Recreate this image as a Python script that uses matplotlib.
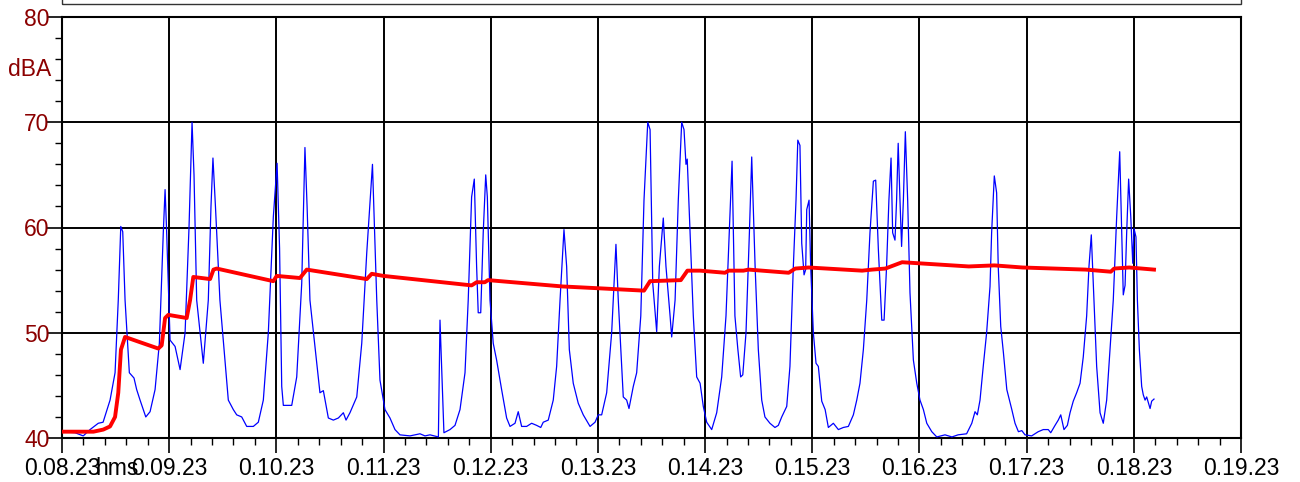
import matplotlib
matplotlib.use("Agg")
import matplotlib.pyplot as plt
from matplotlib.ticker import MultipleLocator
from matplotlib.patches import Rectangle

# ---- data (time in seconds after 0.08.23, level in dBA) ----
blue_t = [0, 7.3, 11.9, 15.7, 20.3, 23.0, 26.9, 29.7, 31.5, 32.9, 34.0, 35.3, 37.7, 40.3, 41.8, 43.7,
          46.9, 49.3, 52.1, 54.5, 56.7, 57.7, 58.5, 60.5, 63.3, 66.1, 68.9, 71.1, 72.8, 73.9, 75.4,
          79.1, 81.9, 83.4, 84.5, 85.9, 88.4, 93.1, 95.9, 97.8, 100.6, 103.4, 107.1, 109.9, 112.7,
          115.5, 118.3, 120.4, 121.8, 123.0, 123.9, 128.6, 131.4, 134.2, 136.0, 137.2, 138.8, 144.4,
          146.3, 149.1, 151.9, 154.7, 157.5, 159.0, 161.2, 165.0, 167.8, 170.6, 173.8, 176.2, 178.0,
          180.8, 183.6, 186.4, 189.2, 194.8, 200.4, 203.2, 206.0, 210.7, 211.6, 213.8, 217.2, 220.0,
          222.8, 225.6, 227.4, 229.3, 230.8, 232.1, 233.0, 234.4, 235.8, 237.2, 238.1, 239.6, 241.4,
          243.3, 246.1, 248.9, 250.8, 253.6, 255.4, 257.3, 260.1, 262.9, 265.7, 268.0, 269.4, 272.2,
          275.0, 276.9, 278.8, 281.0, 282.5, 284.0, 286.2, 289.0, 291.8, 295.6, 298.4, 300.2, 302.1,
          304.9, 307.7, 310.1, 311.4, 314.2, 316.1, 317.4, 319.8, 321.7, 324.0, 325.8, 327.9, 329.2,
          330.7, 332.9, 334.4, 336.6, 338.1, 340.4, 341.3, 343.2, 345.0, 346.9, 348.2, 349.3, 350.0,
          351.6, 353.4, 355.3, 357.2, 359.0, 360.9, 363.7, 366.5, 369.3, 371.7, 373.5, 375.1, 376.7,
          378.3, 379.9, 381.1, 382.9, 384.8, 386.1, 388.0, 389.8, 391.7, 393.5, 396.3, 399.1, 401.0,
          402.9, 405.7, 407.5, 409.4, 410.9, 411.9, 413.1, 414.1, 415.4, 416.3, 416.9, 418.2, 419.1,
          420.6, 422.1, 423.4, 425.3, 427.2, 429.0, 431.8, 434.6, 437.4, 440.2, 443.0, 444.9, 446.7,
          448.6, 450.5, 452.3, 454.2, 455.5, 457.0, 458.9, 460.2, 461.6, 462.9, 464.1, 465.0, 466.3,
          467.2, 468.1, 469.1, 470.0, 471.0, 472.1, 473.4, 474.7, 476.6, 478.5, 480.3, 482.2, 484.1,
          486.9, 489.7, 494.3, 498.2, 501.6, 506.4, 509.3, 511.1, 512.4, 513.9, 515.7, 517.6, 519.5,
          520.4, 521.9, 523.2, 524.1, 525.5, 527.0, 528.9, 531.7, 533.5, 535.4, 537.3, 539.1, 542.8,
          546.5, 549.3, 552.1, 553.5, 555.9, 557.7, 559.1, 560.9, 562.8, 564.3, 566.1, 568.0, 569.9,
          571.7, 573.6, 574.9, 576.2, 577.7, 579.2, 581.1, 582.9, 584.8, 586.7, 588.5, 590.4, 592.1,
          593.2, 594.1, 595.1, 596.0, 597.1, 598.3, 599.4, 600.1, 601.2, 602.0, 603.1, 604.4, 605.3,
          606.3, 607.2, 609.1, 610.0, 611.3]
blue_db = [40.6, 40.5, 40.2, 40.8, 41.4, 41.5, 43.6, 46.2, 53.1, 60.1, 59.6, 53.1, 46.2, 45.7, 44.6, 43.6,
           42.0, 42.5, 44.6, 49.0, 59.5, 63.6, 60.0, 49.3, 48.7, 46.5, 50.0, 60.0, 70.0, 65.0, 53.1,
           47.1, 53.1, 62.0, 66.6, 62.0, 53.1, 43.6, 42.7, 42.2, 42.0, 41.1, 41.1, 41.5, 43.6,
           50.0, 61.0, 66.1, 58.0, 44.9, 43.1, 43.1, 45.8, 54.7, 67.6, 62.0, 53.1, 44.3,
           44.5, 41.9, 41.7, 41.9, 42.4, 41.7, 42.4, 43.9, 49.0, 57.6, 66.0, 53.1, 45.5,
           42.7, 41.9, 40.8, 40.3, 40.2, 40.4, 40.2, 40.3, 40.1, 51.2, 40.5, 40.8, 41.2,
           42.7, 46.2, 53.1, 62.9, 64.6, 56.3, 51.9, 51.9, 59.5, 65.0, 62.9, 53.1, 49.0,
           47.4, 44.6, 41.9, 41.1, 41.4, 42.5, 41.1, 41.1, 41.4, 41.2, 41.0, 41.5, 41.7,
           43.6, 46.8, 53.1, 59.8, 56.3, 48.4, 45.2, 43.3, 42.2, 41.1, 41.5, 42.2, 42.2,
           44.3, 50.0, 58.4, 53.1, 43.9, 43.6, 42.8, 44.9, 46.2, 51.6, 62.6, 70.0, 69.3,
           54.7, 50.1, 56.3, 60.9, 56.3, 51.6, 49.6, 53.1, 62.6, 70.0, 69.3, 66.0, 66.5,
           59.5, 51.6, 45.8, 45.2, 43.0, 41.5, 40.8, 42.4, 45.8, 51.6, 59.5, 66.3, 51.6,
           48.5, 45.8, 46.0, 50.0, 59.5, 66.7, 56.3, 48.4, 43.6, 42.0, 41.4, 41.0, 41.2,
           42.0, 43.0, 46.8, 56.3, 62.6, 68.3, 67.8, 58.5, 55.5, 56.0, 61.7, 62.6, 56.3,
           50.0, 47.1, 46.8, 43.5, 42.7, 41.0, 41.4, 40.8, 41.0, 41.1, 42.2, 43.6, 45.2,
           48.4, 53.1, 59.5, 64.4, 64.5, 57.9, 51.2, 51.2, 56.3, 62.6, 66.6, 59.5, 58.8,
           62.6, 68.0, 62.6, 58.2, 62.6, 69.1, 62.6, 53.8, 47.4, 45.2, 43.6, 42.7, 41.4,
           40.6, 40.1, 40.3, 40.1, 40.3, 40.4, 41.4, 42.5, 42.2, 43.6, 46.8, 50.0, 54.4,
           59.5, 64.9, 63.3, 56.3, 50.6, 48.1, 44.6, 42.7, 41.4, 40.6, 40.7, 40.3, 40.2,
           40.6, 40.8, 40.8, 40.5, 41.2, 41.7, 42.2, 40.8, 41.2, 42.4, 43.5, 44.3, 45.2,
           47.7, 51.6, 56.3, 59.3, 53.1, 46.8, 42.4, 41.4, 43.6, 48.4, 53.1, 61.0, 67.2,
           59.5, 53.6, 54.5, 59.5, 64.6, 61.0, 56.6, 59.9, 59.1, 53.1, 48.4, 44.9, 44.1,
           43.6, 43.9, 42.8, 43.5, 43.7]

red_t = [0, 10.1, 17.6, 23.1, 26.9, 29.7, 31.5, 33.0, 35.3, 43.7, 53.9, 55.8, 57.7, 59.5, 69.8, 71.7,
         73.5, 82.9, 84.8, 86.6, 118.3, 120.2, 133.2, 137.0, 170.6, 173.4, 179.9, 229.3, 232.1,
         236.7, 238.5, 280.1, 303.4, 325.8, 329.2, 346.4, 350.1, 357.2, 371.2, 373.1, 381.5, 384.3,
         406.8, 410.5, 418.0, 447.9, 453.5, 460.9, 465.6, 470.3, 479.6, 507.6, 521.9, 537.7, 573.1,
         587.1, 589.0, 597.4, 611.3]
red_db = [40.6, 40.6, 40.6, 40.8, 41.1, 42.0, 44.3, 48.4, 49.6, 49.1, 48.5, 48.8, 51.4, 51.7, 51.4, 53.1,
          55.3, 55.1, 56.0, 56.1, 54.9, 55.4, 55.2, 56.0, 55.1, 55.6, 55.4, 54.5, 54.8,
          54.8, 55.0, 54.4, 54.2, 54.0, 54.9, 55.0, 55.9, 55.9, 55.7, 55.9, 55.9, 56.0,
          55.7, 56.1, 56.2, 55.9, 56.0, 56.1, 56.4, 56.7, 56.6, 56.3, 56.4, 56.2, 56.0,
          55.8, 56.1, 56.2, 56.0]

x_tick_labels = ['0.08.23', '0.09.23', '0.10.23', '0.11.23', '0.12.23', '0.13.23',
                 '0.14.23', '0.15.23', '0.16.23', '0.17.23', '0.18.23', '0.19.23']
y_ticks = [40, 50, 60, 70, 80]

# ---- figure ----
plt.rcParams['font.family'] = ['Liberation Sans', 'DejaVu Sans']
W, H = 1300, 482
fig = plt.figure(figsize=(W / 100, H / 100), dpi=100)
L, R, T, B = 62, 1241, 17, 438
ax = fig.add_axes([L / W, 1 - B / H, (R - L) / W, (B - T) / H])

ax.plot(blue_t, blue_db, color='#0000FF', lw=0.9, zorder=3)
ax.plot(red_t, red_db, color='#FF0000', lw=2.8, zorder=4, solid_joinstyle='round')

ax.set_xlim(0, 660)
ax.set_ylim(40, 80)
ax.set_xticks([60 * i for i in range(len(x_tick_labels))])
ax.set_xticklabels(x_tick_labels)
ax.set_yticks(y_ticks)
ax.xaxis.set_minor_locator(MultipleLocator(12))
ax.yaxis.set_minor_locator(MultipleLocator(2))

red_txt = '#8B0000'
FS = 16.5
ax.tick_params(axis='both', which='major', direction='out', length=11, width=1.2,
               labelsize=FS, color='black')
ax.tick_params(axis='both', which='minor', direction='out', length=5, width=1.0, color='black')
ax.tick_params(axis='y', which='major', pad=-2, labelcolor=red_txt)
ax.tick_params(axis='x', which='major', pad=3)

ax.grid(True, which='major', color='black', lw=1.4, zorder=1)
for s in ax.spines.values():
    s.set_color('black')
    s.set_linewidth(1.5)

ax.annotate('dBA', xy=(0, 75), xycoords=('axes fraction', 'data'),
            xytext=(-8, 0), textcoords='offset points', ha='right', va='center',
            fontsize=FS, color=red_txt)
ax.annotate('hms', xy=(0, 0), xycoords='axes fraction',
            xytext=(24, -14), textcoords='offset points', ha='left', va='top',
            fontsize=FS, color='black')

# clipped legend frame at the top
fig.patches.append(Rectangle((L / W, 1 - 4 / H), (R - L) / W, 10 / H,
                             transform=fig.transFigure, fill=False,
                             edgecolor='#333333', lw=1.0))

fig.savefig('out.png', dpi=100)
